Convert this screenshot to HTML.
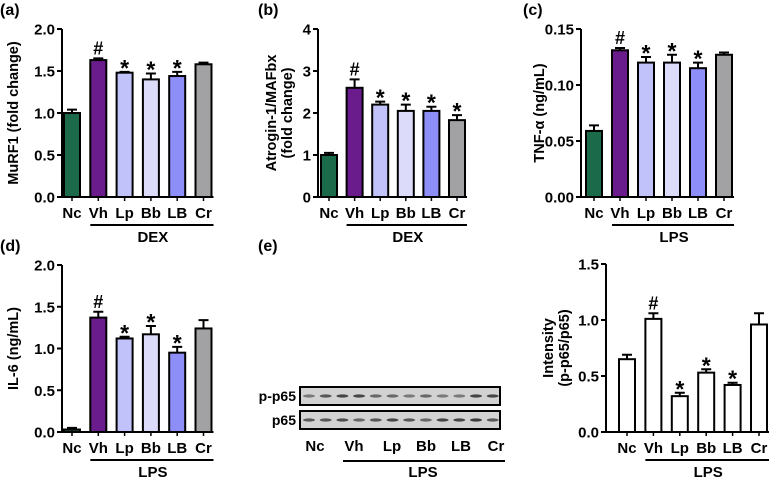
<!DOCTYPE html>
<html><head><meta charset="utf-8"><style>
body{margin:0;background:#fff;}
svg{font-family:"Liberation Sans",sans-serif;font-weight:bold;}
</style></head><body>
<svg id="fig" width="777" height="480" viewBox="0 0 777 480"></svg>
<script>
const cats=["Nc","Vh","Lp","Bb","LB","Cr"];
const colorsA=["#1b6b4b","#6a1b8c","#c2c2fa","#dcdcfa","#8e8ef8","#a2a2a4"];
const valsA=[1.0,1.63,1.48,1.40,1.44,1.58];
const errA=[0.04,0.02,0.01,0.07,0.05,0.02];
const sigA=["","#","*","*","*",""];
const ticksA=["0.0","0.5","1.0","1.5","2.0"];
const valsB=[1.0,2.6,2.2,2.05,2.05,1.83];
const errB=[0.05,0.2,0.07,0.15,0.1,0.12];
const sigB=["","#","*","*","*","*"];
const ticksB=["0","1","2","3","4"];
const valsC=[0.059,0.131,0.120,0.120,0.115,0.127];
const errC=[0.005,0.002,0.005,0.007,0.005,0.002];
const sigC=["","#","*","*","*",""];
const ticksC=["0.00","0.05","0.10","0.15"];
const valsD=[0.03,1.37,1.12,1.17,0.95,1.24];
const errD=[0.02,0.07,0.02,0.1,0.07,0.1];
const sigD=["","#","*","*","*",""];
const ticksD=["0.0","0.5","1.0","1.5","2.0"];
const valsE=[0.65,1.01,0.32,0.53,0.42,0.96];
const errE=[0.04,0.05,0.03,0.03,0.02,0.1];
const sigE=["","#","*","*","*",""];
const ticksE=["0.0","0.5","1.0","1.5"];
const NS="http://www.w3.org/2000/svg";
const svg=document.getElementById('fig');
function mk(tag,attrs,parent,text){const e=document.createElementNS(NS,tag);for(const k in attrs)e.setAttribute(k,attrs[k]);if(text!==undefined)e.textContent=text;(parent||svg).appendChild(e);return e;}
function panel(o){
  const g=mk('g',{});
  
  
  const ymax=parseFloat(o.ticks[o.ticks.length-1]);
  const y=v=>o.y0-(v/ymax)*(o.y0-o.y1);
  const x=i=>o.x0+o.first+i*o.step;
  o.vals.forEach((v,i)=>{
    const cx=x(i),top=y(v+o.err[i]);
    const eb=mk('path',{d:`M${cx} ${y(v)}V${top}M${cx-5} ${top}H${cx+5}`,stroke:'#000','stroke-width':2,fill:'none'},g);
    
    
    const r=mk('rect',{x:cx-8,y:y(v),width:16,height:o.y0-y(v),fill:o.colors?o.colors[i]:'#fff',stroke:'#000','stroke-width':2},g);
    
    
    if(o.sig[i]){const s=mk('text',{x:cx,y:top-(o.sig[i]=='*'?-4:4),'text-anchor':'middle','font-size':o.sig[i]=='*'?23:18},g,o.sig[i]);
      
      }
    mk('line',{x1:cx,x2:cx,y1:o.y0,y2:o.y0+4,stroke:'#000','stroke-width':1.5},g);
    const t=mk('text',{x:cx,y:o.y0+21,'text-anchor':'middle','font-size':15},g,cats[i]);
    
    
  });
  const xend=x(5)+10;
  mk('path',{d:`M${o.x0} ${o.y1}V${o.y0}H${xend}`,stroke:'#000','stroke-width':2,fill:'none'},g);
  o.ticks.forEach(tk=>{const yy=y(parseFloat(tk));
    mk('line',{x1:o.x0-5,x2:o.x0,y1:yy,y2:yy,stroke:'#000','stroke-width':2},g);
    const t=mk('text',{x:o.x0-7,y:yy+5.5,'text-anchor':'end','font-size':15},g,tk);
    
    });
  mk('line',{x1:x(1)-8,x2:x(5)+10,y1:o.y0+28,y2:o.y0+28,stroke:'#000','stroke-width':2},g);
  const gl=mk('text',{x:(x(1)+x(5))/2+2,y:o.y0+45,'text-anchor':'middle','font-size':15},g,o.group);
  
  
  o.ylab.forEach((l,k)=>{const cy=(o.y0+o.y1)/2;const xx=o.ylx+k*16;
    const t=mk('text',{x:xx,y:cy,'text-anchor':'middle','font-size':14.5,transform:`rotate(-90 ${xx} ${cy})`},g,l);
    
    });
  const pl=mk('text',{x:o.lx,y:o.ly,'font-size':16},g,o.letter);
  
  
}
panel({name:'panel-a-murf1',x0:62,y0:197,y1:29,first:10,step:26.3,vals:valsA,err:errA,sig:sigA,ticks:ticksA,colors:colorsA,group:'DEX',ylab:['MuRF1 (fold change)'],ylx:18,letter:'(a)',lx:0,ly:15});
panel({name:'panel-b-atrogin',x0:318,y0:197,y1:29,first:11,step:25.6,vals:valsB,err:errB,sig:sigB,ticks:ticksB,colors:colorsA,group:'DEX',ylab:['Atrogin-1/MAFbx','(fold change)'],ylx:276,letter:'(b)',lx:258,ly:15});
panel({name:'panel-c-tnf',x0:581,y0:197,y1:29,first:13,step:26,vals:valsC,err:errC,sig:sigC,ticks:ticksC,colors:colorsA,group:'LPS',ylab:['TNF-α (ng/mL)'],ylx:544,letter:'(c)',lx:523,ly:15});
panel({name:'panel-d-il6',x0:62,y0:432,y1:265,first:10,step:26.3,vals:valsD,err:errD,sig:sigD,ticks:ticksD,colors:colorsA,group:'LPS',ylab:['IL-6 (ng/mL)'],ylx:18,letter:'(d)',lx:0,ly:251});
panel({name:'panel-e-intensity',x0:606,y0:432,y1:264,first:21,step:26.4,vals:valsE,err:errE,sig:sigE,ticks:ticksE,colors:null,group:'LPS',ylab:['Intensity','(p-p65/p65)'],ylx:553,letter:'(e)',lx:258,ly:251});
const bg=mk('g',{});


const bandsTop=[0.5,0.7,0.8,0.8,0.6,0.6,0.5,0.6,0.5,0.5,0.8,0.8];
const bandsBot=[0.7,0.7,0.75,0.6,0.7,0.8,0.7,0.6,0.8,0.8,0.85,0.7];
[[387,bandsTop,'p-p65'],[411,bandsBot,'p65']].forEach(([yy,bs,lab])=>{
  mk('rect',{x:300,y:yy,width:200,height:18,fill:'#d2d2d2',stroke:'#000','stroke-width':2},bg);
  bs.forEach((b,i)=>{const cx=309+i*16.7;
    mk('ellipse',{cx:cx,cy:yy+9,rx:6,ry:1.6,fill:'#222','fill-opacity':b},bg);});
  const t=mk('text',{x:296,y:yy+14,'text-anchor':'end','font-size':14},bg,lab);
  
  
});
[315,354,392,426,461,496].forEach((lx,i)=>{const t=mk('text',{x:lx,y:451,'text-anchor':'middle','font-size':15},bg,cats[i]);
  
  });
mk('line',{x1:343,x2:505,y1:461,y2:461,stroke:'#000','stroke-width':2},bg);
const bl=mk('text',{x:423,y:477,'text-anchor':'middle','font-size':15},bg,'LPS');


</script>
</body></html>
